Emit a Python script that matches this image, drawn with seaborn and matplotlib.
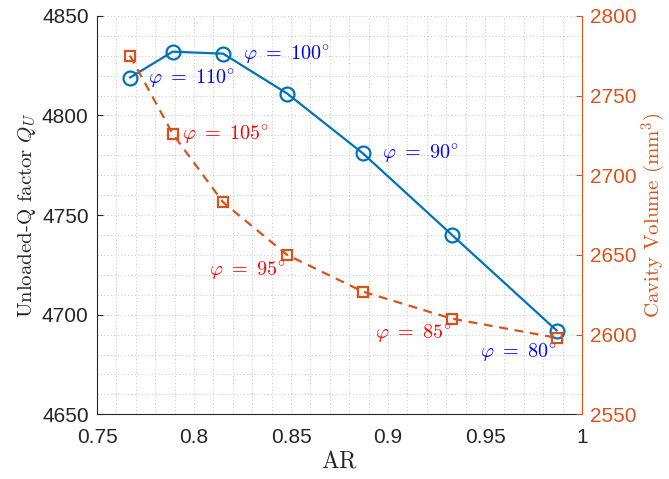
import matplotlib
matplotlib.use("Agg")
import matplotlib.pyplot as plt
import seaborn as sns
import numpy as np
import pandas as pd
from matplotlib.ticker import MultipleLocator

# ---- data ----
ar = [0.767, 0.789, 0.815, 0.848, 0.887, 0.933, 0.987]
q_factor = [4819, 4832, 4831, 4811, 4781, 4740, 4692]
volume = [2775, 2726, 2683, 2650, 2627, 2610, 2598]
q_labels = [r"$\varphi\ =\ 110^{\circ}$", r"$\varphi\ =\ 100^{\circ}$", r"$\varphi\ =\ 90^{\circ}$", r"$\varphi\ =\ 80^{\circ}$"]
v_labels = [r"$\varphi\ =\ 105^{\circ}$", r"$\varphi\ =\ 95^{\circ}$", r"$\varphi\ =\ 85^{\circ}$"]
x_ticks = [0.75, 0.8, 0.85, 0.9, 0.95, 1.0]
x_ticklabels = ["0.75", "0.8", "0.85", "0.9", "0.95", "1"]
q_ticks = [4650, 4700, 4750, 4800, 4850]
v_ticks = [2550, 2600, 2650, 2700, 2750, 2800]

df_q = pd.DataFrame({"AR": ar, "Q": q_factor})
df_v = pd.DataFrame({"AR": ar, "V": volume})

sns.set_style("white")
plt.rcParams["mathtext.fontset"] = "cm"
plt.rcParams["font.family"] = ["Liberation Sans", "DejaVu Sans"]

BLUE = "#0072BD"
ORANGE = "#D95319"

fig = plt.figure(figsize=(6.69, 4.79), dpi=100)
ax = fig.add_axes([0.145, 0.135, 0.725, 0.832])
ax2 = ax.twinx()

sns.lineplot(data=df_q, x="AR", y="Q", ax=ax, color=BLUE, lw=1.6, marker="o",
             markersize=10, markerfacecolor="none", markeredgecolor=BLUE,
             markeredgewidth=1.6, zorder=3)
sns.lineplot(data=df_v, x="AR", y="V", ax=ax2, color=ORANGE, lw=1.6, linestyle=(0, (4, 3)),
             marker="s", markersize=7.5, markerfacecolor="none", markeredgecolor=ORANGE,
             markeredgewidth=1.6, zorder=3)

ax.set_xlim(0.75, 1.0)
ax.set_ylim(4650, 4850)
ax2.set_ylim(2550, 2800)
ax.set_xticks(x_ticks)
ax.set_xticklabels(x_ticklabels)
ax.set_yticks(q_ticks)
ax2.set_yticks(v_ticks)

# grids (dotted, major + minor)
ax.xaxis.set_minor_locator(MultipleLocator(0.01))
ax.yaxis.set_minor_locator(MultipleLocator(10))
ax.grid(True, which="both", linestyle=(0, (1, 2.5)), color="#c4c4c4", lw=0.7)
ax.set_axisbelow(True)
ax.tick_params(which="minor", length=0)
ax2.tick_params(which="minor", length=0)

ax.tick_params(axis="y", which="major", direction="in", length=4, labelsize=15,
               colors="#262626", pad=6)
ax.tick_params(axis="x", which="major", direction="in", length=4, labelsize=15,
               colors="#262626", pad=10)
ax2.tick_params(axis="y", which="major", direction="in", length=4, labelsize=15,
                colors=ORANGE, pad=6)

for a in (ax, ax2):
    a.spines["top"].set_visible(False)
ax.spines["left"].set_color("#262626")
ax.spines["bottom"].set_color("#262626")
ax.spines["right"].set_visible(False)
ax2.spines["left"].set_visible(False)
ax2.spines["bottom"].set_visible(False)
ax2.spines["right"].set_color(ORANGE)
for s in ("left", "bottom"):
    ax.spines[s].set_linewidth(0.8)
ax2.spines["right"].set_linewidth(0.8)

ax.set_xlabel(r"$\mathrm{AR}$", fontsize=17, color="#262626", labelpad=2)
ax.set_ylabel("Unloaded-Q factor $Q_U$", fontsize=15, family="cmr10", color="#262626", labelpad=3)
ax2.set_ylabel(r"Cavity Volume (mm$^3$)", fontsize=15, family="cmr10", color=ORANGE, labelpad=2)

# annotations
q_pos = [(0.7763, 4818.5), (0.8253, 4830.5), (0.8969, 4781), (0.9474, 4681)]
for (x, y), t in zip(q_pos, q_labels):
    ax.text(x, y, t, color="blue", fontsize=14.5, ha="left", va="center", zorder=5)
v_pos = [(0.7938, 2725.5), (0.8077, 2640.5), (0.8933, 2601)]
for (x, y), t in zip(v_pos, v_labels):
    ax2.text(x, y, t, color="red", fontsize=14.5, ha="left", va="center", zorder=5)

if ax.get_legend():
    ax.get_legend().remove()

fig.savefig("out.png", dpi=100)
